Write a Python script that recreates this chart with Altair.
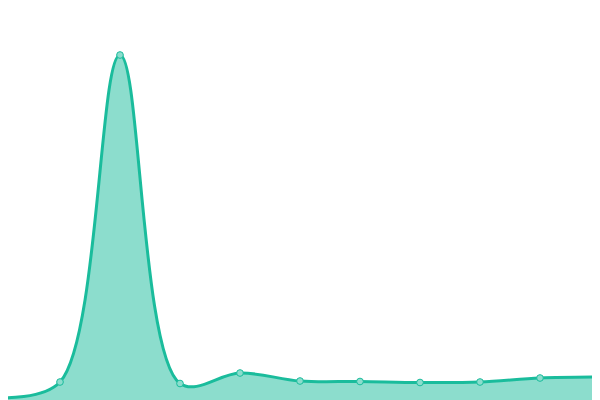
import altair as alt
import pandas as pd

idx = [0, 1, 2, 3, 4, 5, 6, 7, 8, 9, 10]
values = [2.3, 18, 345, 16.5, 27, 19, 18.5, 17.5, 18, 22, 23]

df = pd.DataFrame({"i": idx, "v": values})

x = alt.X("i:Q", axis=None, scale=alt.Scale(domain=[8 / 60, 592 / 60], nice=False, zero=False))
y = alt.Y("v:Q", axis=None, scale=alt.Scale(domain=[0, 392], nice=False, zero=False))

base = alt.Chart(df).encode(x=x, y=y)

area = base.mark_area(interpolate="catmull-rom", color="#1abc9c", opacity=0.5, clip=True)
line = base.mark_line(interpolate="catmull-rom", color="#1abc9c", strokeWidth=3, clip=True)
pts = base.mark_point(
    filled=True, fill="#8cddcd", stroke="#1abc9c", strokeWidth=1, size=45, opacity=1, clip=True
)

chart = (
    alt.layer(area, line, pts)
    .properties(width=584, height=392, autosize=alt.AutoSizeParams(type="none"), padding=0)
    .configure_view(stroke=None)
)

chart.save("out.html", embed_options={"renderer": "svg", "actions": False})
